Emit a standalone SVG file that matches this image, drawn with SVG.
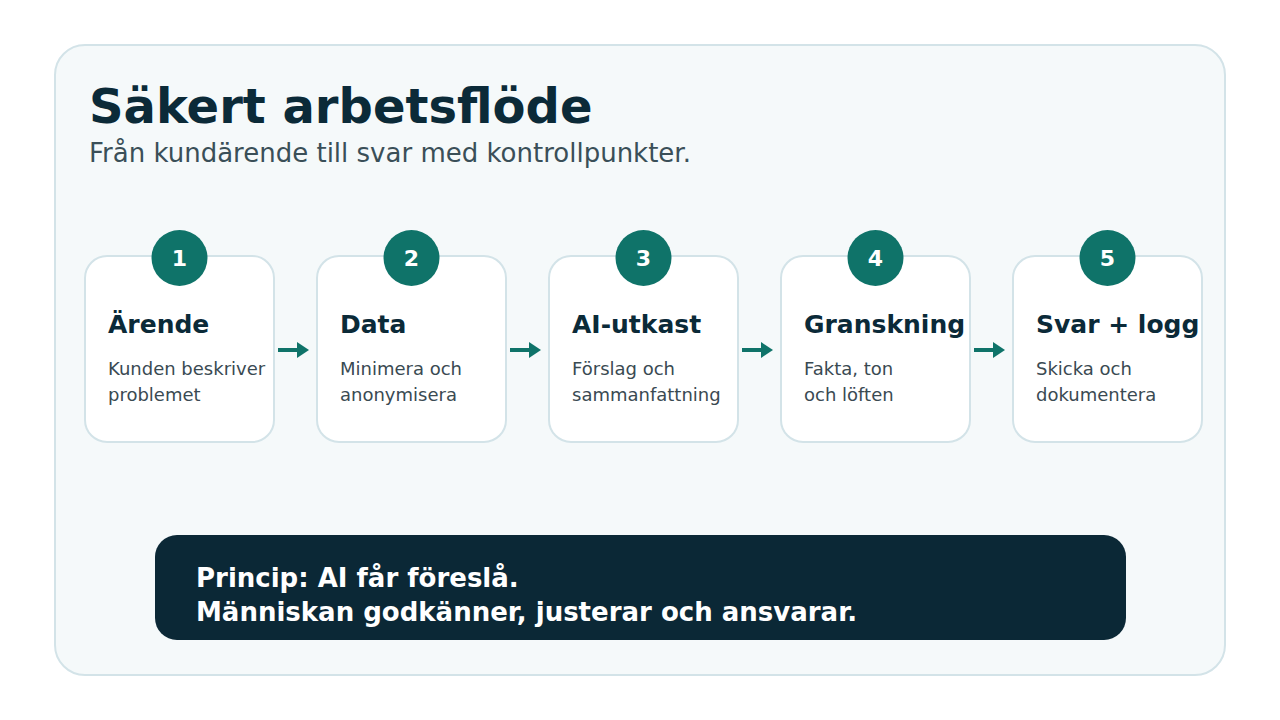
<svg xmlns="http://www.w3.org/2000/svg" width="1280" height="720" viewBox="0 0 1280 720">
<defs>
<style>
.card{fill:#ffffff;stroke:#d3e3e8;stroke-width:2}
.badge{fill:#0f7369}
.num{font-family:"DejaVu Sans",sans-serif;font-weight:bold;font-size:22px;fill:#ffffff;text-anchor:middle}
.ct{font-family:"DejaVu Sans",sans-serif;font-weight:bold;font-size:25px;fill:#0b2a38}
.cd{font-family:"DejaVu Sans",sans-serif;font-size:18px;fill:#3a4a52}
.conn{stroke:#0f7369;stroke-width:4;fill:none}
.bt{font-family:"DejaVu Sans",sans-serif;font-weight:bold;font-size:26px;fill:#ffffff}
</style>
<marker id="ah2" markerWidth="12" markerHeight="16" refX="0" refY="8" orient="auto" markerUnits="userSpaceOnUse" viewBox="0 0 12 16">
<path d="M0,0 L12,8 L0,16 Z" fill="#0f7369"/>
</marker>
</defs>
<rect x="0" y="0" width="1280" height="720" fill="#ffffff"/>
<rect x="55" y="45" width="1170" height="630" rx="30" fill="#f5f9fa" stroke="#d3e3e8" stroke-width="2"/>
<text x="89" y="123" font-family="DejaVu Sans, sans-serif" font-weight="bold" font-size="48" fill="#0b2a38">Säkert arbetsflöde</text>
<text x="89" y="162" font-family="DejaVu Sans, sans-serif" font-size="26" fill="#3a4f58">Från kundärende till svar med kontrollpunkter.</text>

<g id="connectors">
<line class="conn" x1="278" y1="350" x2="297" y2="350" marker-end="url(#ah2)"/>
<line class="conn" x1="510" y1="350" x2="529" y2="350" marker-end="url(#ah2)"/>
<line class="conn" x1="742" y1="350" x2="761" y2="350" marker-end="url(#ah2)"/>
<line class="conn" x1="974" y1="350" x2="993" y2="350" marker-end="url(#ah2)"/>
</g>

<g id="node1">
<rect class="card" x="85" y="256" width="189" height="186" rx="22"/>
<circle class="badge" cx="179.5" cy="258" r="28"/>
<text class="num" x="179.5" y="266">1</text>
<text class="ct" x="108" y="333">Ärende</text>
<text class="cd" x="108" y="375">Kunden beskriver</text>
<text class="cd" x="108" y="401">problemet</text>
</g>
<g id="node2">
<rect class="card" x="317" y="256" width="189" height="186" rx="22"/>
<circle class="badge" cx="411.5" cy="258" r="28"/>
<text class="num" x="411.5" y="266">2</text>
<text class="ct" x="340" y="333">Data</text>
<text class="cd" x="340" y="375">Minimera och</text>
<text class="cd" x="340" y="401">anonymisera</text>
</g>
<g id="node3">
<rect class="card" x="549" y="256" width="189" height="186" rx="22"/>
<circle class="badge" cx="643.5" cy="258" r="28"/>
<text class="num" x="643.5" y="266">3</text>
<text class="ct" x="572" y="333">AI-utkast</text>
<text class="cd" x="572" y="375">Förslag och</text>
<text class="cd" x="572" y="401">sammanfattning</text>
</g>
<g id="node4">
<rect class="card" x="781" y="256" width="189" height="186" rx="22"/>
<circle class="badge" cx="875.5" cy="258" r="28"/>
<text class="num" x="875.5" y="266">4</text>
<text class="ct" x="804" y="333">Granskning</text>
<text class="cd" x="804" y="375">Fakta, ton</text>
<text class="cd" x="804" y="401">och löften</text>
</g>
<g id="node5">
<rect class="card" x="1013" y="256" width="189" height="186" rx="22"/>
<circle class="badge" cx="1107.5" cy="258" r="28"/>
<text class="num" x="1107.5" y="266">5</text>
<text class="ct" x="1036" y="333">Svar + logg</text>
<text class="cd" x="1036" y="375">Skicka och</text>
<text class="cd" x="1036" y="401">dokumentera</text>
</g>

<g id="principle">
<rect x="155" y="535" width="971" height="105" rx="22" fill="#0b2836"/>
<text class="bt" x="196" y="587">Princip: AI får föreslå.</text>
<text class="bt" x="196" y="621">Människan godkänner, justerar och ansvarar.</text>
</g>
</svg>
